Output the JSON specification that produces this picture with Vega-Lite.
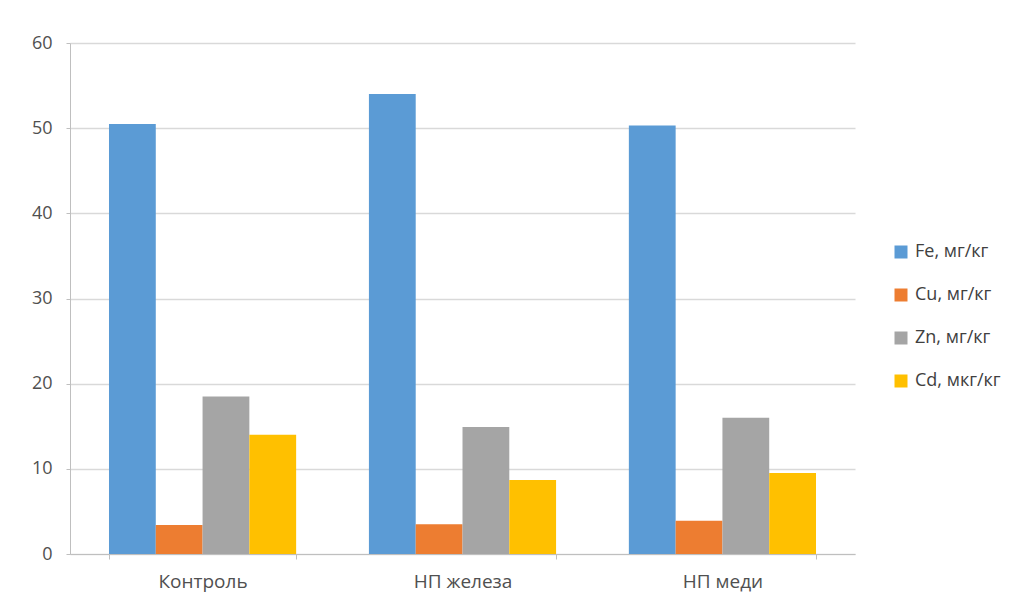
{
  "$schema": "https://vega.github.io/schema/vega-lite/v6.json",
  "width": 785,
  "height": 511,
  "autosize": {"type": "none"},
  "padding": {"left": 70, "top": 43, "right": 167, "bottom": 54},
  "background": "white",
  "config": {
    "font": "Open Sans",
    "view": {"stroke": null},
    "axis": {"labelColor": "#505050", "labelFont": "Open Sans"}
  },
  "data": {
    "values": [
      {"group": "Контроль", "series": "Fe, мг/кг", "value": 50.5},
      {"group": "Контроль", "series": "Cu, мг/кг", "value": 3.4},
      {"group": "Контроль", "series": "Zn, мг/кг", "value": 18.5},
      {"group": "Контроль", "series": "Cd, мкг/кг", "value": 14.0},
      {"group": "НП железа", "series": "Fe, мг/кг", "value": 54.0},
      {"group": "НП железа", "series": "Cu, мг/кг", "value": 3.5},
      {"group": "НП железа", "series": "Zn, мг/кг", "value": 14.9},
      {"group": "НП железа", "series": "Cd, мкг/кг", "value": 8.7},
      {"group": "НП меди", "series": "Fe, мг/кг", "value": 50.3},
      {"group": "НП меди", "series": "Cu, мг/кг", "value": 3.9},
      {"group": "НП меди", "series": "Zn, мг/кг", "value": 16.0},
      {"group": "НП меди", "series": "Cd, мкг/кг", "value": 9.5}
    ]
  },
  "mark": {"type": "bar"},
  "encoding": {
    "x": {
      "field": "group",
      "type": "nominal",
      "sort": ["Контроль", "НП железа", "НП меди"],
      "scale": {"paddingInner": 0.28, "paddingOuter": 0.15},
      "axis": {
        "title": null,
        "labelAngle": 0,
        "labelFontSize": 19,
        "tickBand": "extent",
        "ticks": true,
        "tickSize": 5,
        "tickColor": "#bfbfbf",
        "domainColor": "#bfbfbf",
        "labelPadding": 13,
        "grid": false
      }
    },
    "xOffset": {
      "field": "series",
      "type": "nominal",
      "sort": ["Fe, мг/кг", "Cu, мг/кг", "Zn, мг/кг", "Cd, мкг/кг"],
      "scale": {"paddingInner": 0, "paddingOuter": 0}
    },
    "y": {
      "field": "value",
      "type": "quantitative",
      "scale": {"domain": [0, 60], "nice": false},
      "axis": {
        "title": null,
        "values": [0, 10, 20, 30, 40, 50, 60],
        "labelFontSize": 18,
        "tickSize": 4,
        "tickColor": "#bfbfbf",
        "domainColor": "#bfbfbf",
        "gridColor": "#d9d9d9",
        "gridWidth": 1.5,
        "labelPadding": 14
      }
    },
    "color": {
      "field": "series",
      "type": "nominal",
      "sort": ["Fe, мг/кг", "Cu, мг/кг", "Zn, мг/кг", "Cd, мкг/кг"],
      "scale": {
        "domain": ["Fe, мг/кг", "Cu, мг/кг", "Zn, мг/кг", "Cd, мкг/кг"],
        "range": ["#5b9bd5", "#ed7d31", "#a5a5a5", "#ffc000"]
      },
      "legend": {
        "title": null,
        "orient": "none",
        "legendX": 822,
        "legendY": 200,
        "symbolType": "square",
        "symbolSize": 169,
        "symbolStrokeWidth": 0,
        "symbolOpacity": 1,
        "labelFontSize": 18,
        "labelColor": "#404040",
        "labelFont": "Open Sans",
        "rowPadding": 25,
        "labelOffset": 5
      }
    }
  }
}
